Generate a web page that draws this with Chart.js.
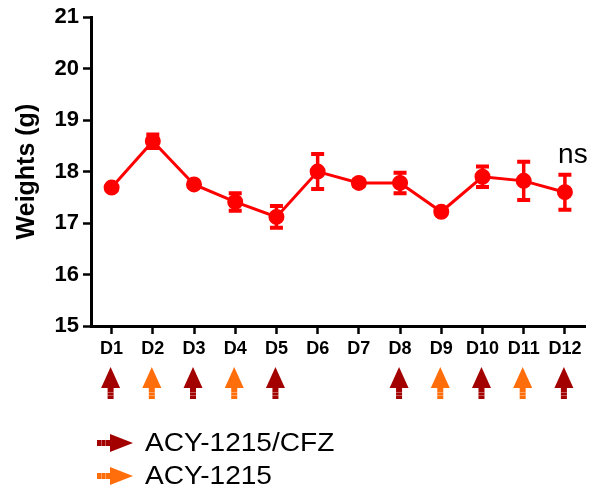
<!DOCTYPE html>
<html>
<head>
<meta charset="utf-8">
<script src="https://cdn.jsdelivr.net/npm/chart.js@4/dist/chart.umd.min.js"></script>
<style>
  html, body { margin: 0; padding: 0; background: #fff; }
  #wrap { width: 595px; height: 489px; position: relative; }
</style>
</head>
<body>
<div id="wrap"><canvas id="weightChart" width="595" height="489"></canvas></div>
<script>
// chart data
const days = ["D1", "D2", "D3", "D4", "D5", "D6", "D7", "D8", "D9", "D10", "D11", "D12"];
const weights = [17.69, 18.59, 17.75, 17.41, 17.12, 18.0, 17.78, 17.78, 17.22, 17.9, 17.82, 17.6];
const errors = [0.04, 0.13, 0.04, 0.17, 0.21, 0.34, 0.06, 0.2, 0.03, 0.2, 0.37, 0.34];
// which treatment was given each day ("" = none)
const doses = ["combo", "single", "combo", "single", "combo", "", "", "combo", "single", "combo", "single", "combo"];
const legendNames = ["ACY-1215/CFZ", "ACY-1215"];
const yTicks = [15, 16, 17, 18, 19, 20, 21];

const comboColor = "#A30000";
const singleColor = "#FF6E0A";
const lineRed = "#FF0000";
const fontName = "Arial, 'Liberation Sans', sans-serif";

//draws the error bars, the "ns" text, the dose arrows and the legend
const extras = {
  id: "extras",
  afterDatasetsDraw(chart) {
    const ctx = chart.ctx;
    const xs = chart.scales.x;
    const ys = chart.scales.y;
    ctx.save();

    // error bars
    ctx.strokeStyle = lineRed;
    for (let i = 0; i < weights.length; i++) {
      const x = xs.getPixelForValue(i);
      const top = ys.getPixelForValue(weights[i] + errors[i]);
      const bot = ys.getPixelForValue(weights[i] - errors[i]);
      ctx.lineWidth = 3.5;
      ctx.beginPath();
      ctx.moveTo(x, top); ctx.lineTo(x, bot);
      ctx.stroke();
      ctx.lineWidth = 4;
      ctx.beginPath();
      ctx.moveTo(x - 6.5, top); ctx.lineTo(x + 6.5, top);
      ctx.moveTo(x - 6.5, bot); ctx.lineTo(x + 6.5, bot);
      ctx.stroke();
    }

    // ns above last point
    const last = weights.length - 1;
    ctx.fillStyle = "#000";
    ctx.font = "28px " + fontName;
    ctx.textAlign = "center";
    ctx.textBaseline = "alphabetic";
    ctx.fillText("ns", xs.getPixelForValue(last) + 8, ys.getPixelForValue(weights[last] + errors[last]) - 12);

    // dose arrows under the day labels
    for (let i = 0; i < doses.length; i++) {
      if (!doses[i]) continue;
      const col = doses[i] == "combo" ? comboColor : singleColor;
      const x = xs.getPixelForValue(i) - 1;
      upArrow(ctx, x, 367, col);
    }

    // legend
    rightArrow(ctx, 97, 443, comboColor);
    rightArrow(ctx, 97, 476, singleColor);
    ctx.fillStyle = "#000";
    ctx.font = "26px " + fontName;
    ctx.textAlign = "left";
    ctx.textBaseline = "middle";
    ctx.save();
    ctx.translate(145, 0);
    ctx.scale(1.08, 1);
    ctx.fillText(legendNames[0], 0, 444);
    ctx.fillText(legendNames[1], 0, 477);
    ctx.restore();

    ctx.restore();
  }
};

function upArrow(ctx, x, top, col) {
  ctx.fillStyle = col;
  ctx.beginPath();
  ctx.moveTo(x, top);
  ctx.lineTo(x + 9.5, top + 21);
  ctx.lineTo(x - 9.5, top + 21);
  ctx.closePath();
  ctx.fill();
  // stem with faint stripes
  ctx.fillRect(x - 3, top + 21, 6, 11);
  ctx.fillStyle = "rgba(255,255,255,0.35)";
  ctx.fillRect(x - 3, top + 25, 6, 1);
  ctx.fillRect(x - 3, top + 28, 6, 1);
}

function rightArrow(ctx, left, y, col) {
  ctx.fillStyle = col;
  ctx.fillRect(left, y - 3, 13, 6);
  ctx.beginPath();
  ctx.moveTo(left + 13, y - 9);
  ctx.lineTo(left + 36, y);
  ctx.lineTo(left + 13, y + 9);
  ctx.closePath();
  ctx.fill();
  ctx.fillStyle = "rgba(255,255,255,0.35)";
  ctx.fillRect(left + 4, y - 3, 1, 6);
  ctx.fillRect(left + 8, y - 3, 1, 6);
}

new Chart("weightChart", {
  type: "line",
  data: {
    labels: days,
    datasets: [{
      data: weights,
      borderColor: lineRed,
      backgroundColor: lineRed,
      borderWidth: 3,
      pointRadius: 6.5,
      pointHoverRadius: 6.5,
      tension: 0
    }]
  },
  options: {
    responsive: false,
    animation: false,
    layout: { padding: { top: 17, right: 0, left: 0, bottom: 0 } },
    plugins: { legend: { display: false }, tooltip: { enabled: false } },
    scales: {
      x: {
        offset: true,
        grid: { drawOnChartArea: false, offset: false, color: "#000", tickLength: 8, tickWidth: 2.5 },
        border: { color: "#000", width: 3 },
        ticks: { color: "#000", padding: 4, maxRotation: 0, autoSkip: false,
                 font: { family: fontName, size: 18, weight: "bold" } },
        afterFit: function(scale) { scale.height = 163; }
      },
      y: {
        min: 15,
        max: 21,
        afterBuildTicks: function(scale) { scale.ticks = yTicks.map(v => ({ value: v })); },
        grid: { drawOnChartArea: false, color: "#000", tickLength: 8, tickWidth: 2.5 },
        border: { color: "#000", width: 3 },
        ticks: { color: "#000", padding: 4,
                 font: { family: fontName, size: 22, weight: "bold" } },
        title: { display: true, text: "Weights (g)", color: "#000", padding: { top: 12, bottom: 0 },
                 font: { family: fontName, size: 25, weight: "bold" } },
        afterFit: function(scale) { scale.width = 91; }
      }
    }
  },
  plugins: [extras]
});
</script>
</body>
</html>
